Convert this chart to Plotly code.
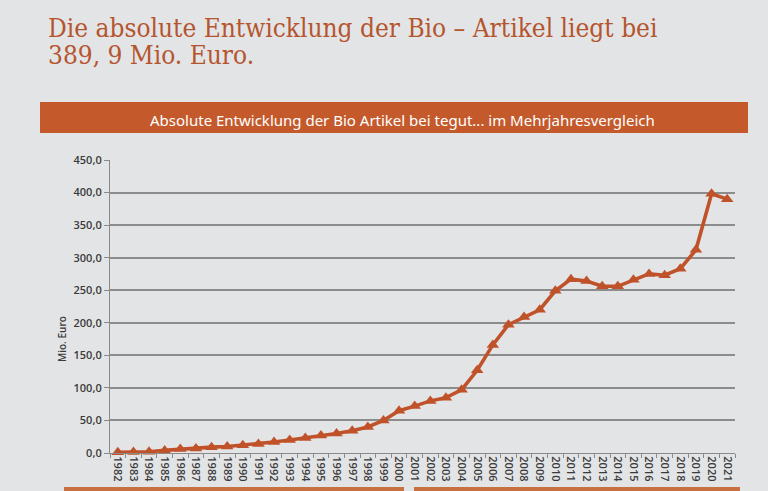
import plotly.graph_objects as go

years = [str(y) for y in range(1982, 2022)]
umsatz = [1.0, 1.5, 2.0, 4.0, 6.0, 7.0, 9.0, 10.0, 12.0, 14.0,
          17.0, 20.0, 23.0, 27.0, 30.0, 34.0, 40.0, 50.0, 65.0, 72.0,
          80.0, 85.0, 97.0, 127.0, 166.0, 197.0, 209.0, 220.0, 249.0, 267.0,
          264.0, 256.0, 256.0, 266.0, 275.0, 273.0, 283.0, 312.0, 398.0, 389.9]
y_ticks = [0, 50, 100, 150, 200, 250, 300, 350, 400, 450]

title_lines = ["Die absolute Entwicklung der Bio – Artikel liegt bei", "389, 9 Mio. Euro."]
banner_text = "Absolute Entwicklung der Bio Artikel bei tegut... im Mehrjahresvergleich"
y_title = "Mio. Euro"

ORANGE = "#C0522A"
BG = "#E3E4E6"
TICK = dict(size=11, color="#3a3a3a", family="Open Sans, Noto Sans, sans-serif", weight=600)

fig = go.Figure()
fig.add_trace(go.Scatter(
    x=years, y=umsatz, mode="lines+markers",
    line=dict(color=ORANGE, width=3.6),
    marker=dict(symbol="triangle-up", size=11, color=ORANGE),
    showlegend=False, hoverinfo="x+y", cliponaxis=False,
))

W, H = 768, 491
ml, mr, mt, mb = 110, 33, 160, 38

fig.update_layout(
    width=W, height=H,
    margin=dict(l=ml, r=mr, t=mt, b=mb, autoexpand=False),
    paper_bgcolor=BG, plot_bgcolor=BG,
    separators=",.",
    font=dict(family="Open Sans, Noto Sans, sans-serif", color="#3d3d3d"),
    xaxis=dict(
        type="category", range=[-0.5, len(years) - 0.5], tickangle=90, showgrid=False,
        showline=True, linecolor="#8a8a8a", linewidth=1.2,
        ticks="outside", ticklen=4, tickcolor="#8a8a8a", tickson="boundaries",
        tickfont=TICK, automargin=False, fixedrange=True,
    ),
    yaxis=dict(
        range=[0, 450], tickvals=y_ticks, tickformat=".1f",
        showgrid=True, gridcolor="#8c8c8c", gridwidth=1.5,
        showline=True, linecolor="#8a8a8a", linewidth=1.2,
        ticks="outside", ticklen=5, tickcolor="#8a8a8a",
        tickfont=TICK, zeroline=False, automargin=False, fixedrange=True,
    ),
)

pw = W - ml - mr
ph = H - mt - mb
def px_x(x):
    return (x - ml) / pw
def px_y(y):
    return (H - mb - y) / ph

# Slide title
for i, line in enumerate(title_lines):
    fig.add_annotation(
        xref="paper", yref="paper", x=px_x(46), y=px_y(28 + 27 * i),
        text=line, showarrow=False, xanchor="left", yanchor="middle",
        font=dict(family="DejaVu Serif Condensed, Liberation Serif, serif", size=26, color="#B5552E"),
    )

# Orange banner
fig.add_shape(type="rect", xref="paper", yref="paper",
              x0=px_x(40), x1=px_x(748), y0=px_y(133), y1=px_y(102),
              fillcolor="#C45A2C", line=dict(width=0), layer="below")
fig.add_annotation(xref="paper", yref="paper", x=px_x(402), y=px_y(120),
                   text=banner_text, showarrow=False, xanchor="center", yanchor="middle",
                   font=dict(family="Noto Sans, sans-serif", size=15, color="white"))

# bottom orange strips
fig.add_shape(type="rect", xref="paper", yref="paper",
              x0=px_x(64), x1=px_x(404), y0=px_y(491), y1=px_y(487),
              fillcolor="#C8703F", line=dict(width=0))
fig.add_shape(type="rect", xref="paper", yref="paper",
              x0=px_x(414), x1=px_x(740), y0=px_y(491), y1=px_y(487),
              fillcolor="#C8703F", line=dict(width=0))

# y axis title
fig.add_annotation(xref="paper", yref="paper", x=px_x(62), y=px_y(339),
                   text=y_title, showarrow=False, textangle=-90,
                   xanchor="center", yanchor="middle",
                   font=dict(family="Open Sans, Noto Sans, sans-serif", size=10, color="#3a3a3a", weight=600))

fig.write_html("out.html", config={"displayModeBar": False},
               post_script="document.body.style.margin='0px';")
